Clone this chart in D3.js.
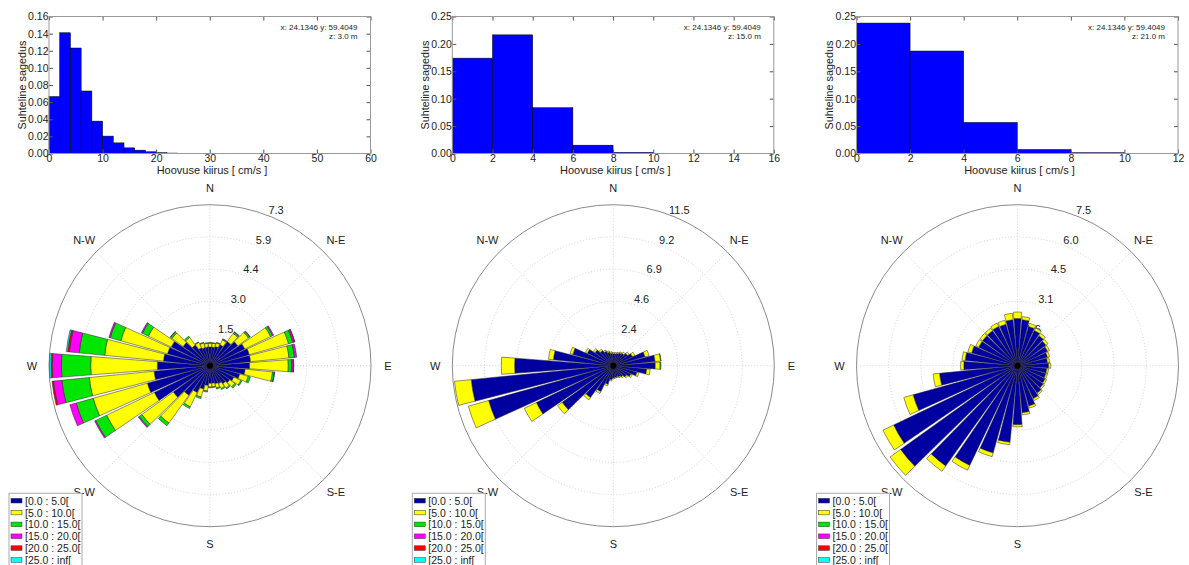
<!DOCTYPE html>
<html>
<head>
<meta charset="utf-8">
<script src="https://cdn.jsdelivr.net/npm/d3@7"></script>
<style>
  body { margin: 0; background: #fff; }
  svg text { font-family: "Liberation Sans", Arial, sans-serif; fill: #222; }
</style>
</head>
<body>
<div id="chart"></div>
<script>
var width = 1189;
var height = 565;

// ---- histograms: bin left edges (cm/s, width 2) and relative frequency ----
var hist1Edges = [0, 2, 4, 6, 8, 10, 12, 14, 16, 18, 20, 22, 24, 26, 28];
var hist1Freq = [0.0665, 0.1410, 0.1232, 0.0730, 0.0378, 0.0203, 0.0124, 0.0066, 0.0039, 0.0020, 0.0010, 0.0005, 0.0003, 0.0002, 0.0001];
var hist2Edges = [0, 2, 4, 6, 8];
var hist2Freq = [0.174, 0.2165, 0.0835, 0.0152, 0.0020];
var hist3Edges = [0, 2, 4, 6, 8];
var hist3Freq = [0.238, 0.187, 0.0567, 0.0073, 0.0015];

var depths = ["z: 3.0 m", "z: 15.0 m", "z: 21.0 m"];
var position = "x: 24.1346 y: 59.4049";

// ---- wind roses: 36 directions (compass degrees), frequency in % ----
var directions = [0, 10, 20, 30, 40, 50, 60, 70, 80, 90, 100, 110, 120, 130, 140, 150, 160, 170,
                  180, 190, 200, 210, 220, 230, 240, 250, 260, 270, 280, 290, 300, 310, 320, 330, 340, 350];
var dirLabels = ["N", "N-E", "E", "S-E", "S", "S-W", "W", "N-W"];
var binLabels = ["[0.0 : 5.0[", "[5.0 : 10.0[", "[10.0 : 15.0[", "[15.0 : 20.0[", "[20.0 : 25.0[", "[25.0 : inf["];
var binColors = ["#0000a0", "#ffff00", "#00e600", "#ff00ff", "#ff0000", "#00ffff"];

// depth 3.0 m
var rose1_0_5   = [0.85, 0.85, 0.90, 1.05, 1.35, 1.55, 1.75, 1.85, 1.85, 1.80, 1.60, 1.40, 1.20, 1.10, 1.00, 0.90, 0.85, 0.80,
                   0.80, 0.90, 1.10, 1.35, 1.65, 2.05, 2.80, 2.95, 2.55, 2.39, 2.12, 2.00, 1.95, 1.50, 1.15, 0.90, 0.85, 0.85];
var rose1_5_10  = [0.17, 0.17, 0.17, 0.25, 0.45, 0.60, 1.30, 1.85, 1.75, 1.75, 1.25, 0.40, 0.35, 0.28, 0.25, 0.25, 0.20, 0.17,
                   0.17, 0.25, 0.38, 0.72, 1.55, 1.75, 2.40, 2.55, 2.95, 3.02, 2.68, 2.20, 1.15, 0.62, 0.43, 0.27, 0.22, 0.17];
var rose1_10_15 = [0.03, 0.03, 0.03, 0.03, 0.07, 0.07, 0.10, 0.20, 0.25, 0.15, 0.08, 0.10, 0.05, 0.07, 0.05, 0.05, 0.05, 0.03,
                   0.03, 0.05, 0.07, 0.08, 0.15, 0.15, 0.55, 0.80, 1.25, 1.33, 1.16, 0.50, 0.30, 0.08, 0.07, 0.03, 0.03, 0.03];
var rose1_15_20 = [0, 0, 0, 0.02, 0.03, 0.03, 0.05, 0.08, 0.10, 0.08, 0.02, 0, 0, 0, 0, 0, 0, 0,
                   0, 0, 0, 0, 0, 0.05, 0.05, 0.30, 0.38, 0.41, 0.45, 0.06, 0.05, 0.02, 0, 0, 0, 0];
var rose1_20_25 = [0, 0, 0, 0, 0, 0, 0, 0.02, 0, 0.02, 0, 0, 0, 0, 0, 0, 0, 0,
                   0, 0, 0, 0, 0, 0, 0, 0, 0.07, 0.06, 0.08, 0, 0, 0, 0, 0, 0, 0];
var rose1_25_inf = [0, 0, 0, 0, 0, 0, 0, 0, 0, 0, 0, 0, 0, 0, 0, 0, 0, 0,
                    0, 0, 0, 0, 0, 0, 0, 0, 0, 0.07, 0.06, 0, 0, 0, 0, 0, 0, 0];

// depth 15.0 m
var rose2_0_5   = [0.85, 0.85, 0.90, 1.00, 1.08, 1.25, 1.50, 2.35, 3.00, 3.00, 2.40, 1.75, 1.38, 1.15, 0.97, 0.88, 0.83, 0.83,
                   0.87, 1.00, 1.38, 2.05, 2.80, 4.50, 6.10, 9.25, 10.20, 7.05, 4.30, 3.00, 2.05, 1.60, 1.33, 1.15, 1.00, 0.90];
var rose2_5_10  = [0.10, 0.10, 0.10, 0.10, 0.12, 0.15, 0.20, 0.30, 0.40, 0.35, 0.25, 0.15, 0.12, 0.10, 0.08, 0.07, 0.07, 0.07,
                   0.08, 0.10, 0.12, 0.15, 0.20, 0.40, 0.95, 1.50, 1.20, 0.95, 0.35, 0.20, 0.15, 0.15, 0.12, 0.10, 0.10, 0.10];
var rose2_10_15 = [0, 0, 0, 0, 0, 0, 0, 0, 0.03, 0.05, 0, 0, 0, 0, 0, 0, 0, 0,
                   0, 0, 0, 0, 0, 0, 0, 0, 0, 0, 0, 0, 0, 0, 0, 0, 0, 0];

// depth 21.0 m
var rose3_0_5   = [2.20, 2.15, 1.90, 1.82, 1.72, 1.63, 1.55, 1.45, 1.40, 1.45, 1.37, 1.37, 1.42, 1.47, 1.57, 1.70, 1.95, 2.20,
                   2.75, 3.58, 4.22, 5.15, 5.75, 6.70, 6.40, 5.05, 3.65, 2.50, 2.45, 2.22, 2.00, 2.00, 2.00, 2.03, 2.00, 2.15];
var rose3_5_10  = [0.30, 0.15, 0.15, 0.13, 0.13, 0.12, 0.10, 0.10, 0.10, 0.10, 0.08, 0.08, 0.08, 0.08, 0.08, 0.10, 0.10, 0.10,
                   0.10, 0.12, 0.18, 0.25, 0.30, 0.60, 0.55, 0.45, 0.30, 0.15, 0.15, 0.18, 0.15, 0.15, 0.15, 0.17, 0.20, 0.30];

var rings1 = ["1.5", "3.0", "4.4", "5.9", "7.3"];
var rings2 = ["2.4", "4.6", "6.9", "9.2", "11.5"];
var rings3 = ["1.6", "3.1", "4.5", "6.0", "7.5"];

var panels = [
  { cx: 210, edges: hist1Edges, freq: hist1Freq, xMax: 60, xTicks: 6, yMax: 0.16, yTicks: 8, depth: depths[0],
    rose: [rose1_0_5, rose1_5_10, rose1_10_15, rose1_15_20, rose1_20_25, rose1_25_inf], rMax: 7.3, rings: rings1 },
  { cx: 613.3, edges: hist2Edges, freq: hist2Freq, xMax: 16, xTicks: 8, yMax: 0.25, yTicks: 5, depth: depths[1],
    rose: [rose2_0_5, rose2_5_10, rose2_10_15], rMax: 11.5, rings: rings2 },
  { cx: 1017.5, edges: hist3Edges, freq: hist3Freq, xMax: 12, xTicks: 6, yMax: 0.25, yTicks: 5, depth: depths[2],
    rose: [rose3_0_5, rose3_5_10], rMax: 7.5, rings: rings3 }
];

var histTop = 16.5, histBottom = 153.5, histW = 321.5;
var roseCy = 365.7, R = 161;
var binWidth = 2;
var opening = 0.88;
var toRad = Math.PI / 180;

var svg = d3.select("#chart")
    .append("svg")
    .attr("width", width)
    .attr("height", height);

function styleAxis(g) {
  g.select(".domain").remove();
  g.selectAll("line").attr("stroke", "#555");
  g.selectAll("text").attr("font-size", 10.5).attr("font-family", null).style("fill", "#222");
}

panels.forEach(function (p) {
  // ---------------- histogram ----------------
  var left = p.cx - 161;
  var x = d3.scaleLinear().domain([0, p.xMax]).range([left, left + histW]);
  var y = d3.scaleLinear().domain([0, p.yMax]).range([histBottom, histTop]);
  var h = svg.append("g");

  h.selectAll("rect.bar")
    .data(p.freq)
    .enter()
    .append("rect")
    .attr("class", "bar")
    .attr("x", (d, i) => x(p.edges[i]))
    .attr("width", (d, i) => x(p.edges[i] + binWidth) - x(p.edges[i]))
    .attr("y", d => y(d))
    .attr("height", d => histBottom - y(d))
    .attr("fill", "#0000ff")
    .attr("stroke", "#000")
    .attr("stroke-width", 0.5);

  h.append("g").attr("transform", `translate(0, ${histBottom})`)
    .call(d3.axisBottom(x).ticks(p.xTicks).tickSize(-4).tickPadding(1).tickFormat(d3.format("d")))
    .call(styleAxis);
  h.append("g").attr("transform", `translate(0, ${histTop})`)
    .call(d3.axisTop(x).ticks(p.xTicks).tickSize(-4).tickFormat(""))
    .call(styleAxis);
  h.append("g").attr("transform", `translate(${left}, 0)`)
    .call(d3.axisLeft(y).ticks(p.yTicks).tickSize(-4).tickPadding(0.5).tickFormat(d3.format(".2f")))
    .call(styleAxis);
  h.append("g").attr("transform", `translate(${left + histW}, 0)`)
    .call(d3.axisRight(y).ticks(p.yTicks).tickSize(-4).tickFormat(""))
    .call(styleAxis);

  h.append("rect")
    .attr("x", left).attr("y", histTop)
    .attr("width", histW).attr("height", histBottom - histTop)
    .attr("fill", "none").attr("stroke", "#999").attr("stroke-width", 1);

  h.append("text")
    .attr("x", p.cx + 2).attr("y", 174)
    .attr("text-anchor", "middle").attr("font-size", 11)
    .text("Hoovuse kiirus [ cm/s ]");
  h.append("text")
    .attr("transform", `translate(${p.cx - 188.5}, ${(histTop + histBottom) / 2}) rotate(-90)`)
    .attr("text-anchor", "middle").attr("dominant-baseline", "central").attr("font-size", 10.8)
    .text("Suhteline sagedus");
  h.append("text")
    .attr("x", left + histW - 13).attr("y", 29.5)
    .attr("text-anchor", "end").attr("font-size", 8)
    .text(position);
  h.append("text")
    .attr("x", left + histW - 13).attr("y", 38.8)
    .attr("text-anchor", "end").attr("font-size", 8)
    .text(p.depth);

  // ---------------- wind rose ----------------
  var r = d3.scaleLinear().domain([0, p.rMax]).range([0, R]);
  var g = svg.append("g").attr("transform", `translate(${p.cx}, ${roseCy})`);

  // dotted rings and spokes
  p.rings.forEach(function (lab, i) {
    var rv = p.rMax * (i + 1) / p.rings.length;
    if (i < p.rings.length - 1) {
      g.append("circle").attr("r", r(rv))
        .attr("fill", "none").attr("stroke", "#c8c8c8").attr("stroke-width", 0.8)
        .attr("stroke-dasharray", "1,2");
    }
    var a = 23 * toRad, rr = r(rv) + 8;
    g.append("text")
      .attr("x", rr * Math.sin(a)).attr("y", -rr * Math.cos(a))
      .attr("text-anchor", "middle").attr("dominant-baseline", "central")
      .attr("font-size", 11)
      .text(lab);
  });
  dirLabels.forEach(function (lab, i) {
    var a = i * 45 * toRad;
    g.append("line")
      .attr("x1", 0).attr("y1", 0)
      .attr("x2", R * Math.sin(a)).attr("y2", -R * Math.cos(a))
      .attr("stroke", "#c8c8c8").attr("stroke-width", 0.8).attr("stroke-dasharray", "1,2");
    var lx = (R + 17) * Math.sin(a);
    // the right-most panel's "E" falls outside the picture, as in the original
    if (p.cx + lx > width - 4) return;
    g.append("text")
      .attr("x", lx).attr("y", -(R + 17) * Math.cos(a))
      .attr("text-anchor", "middle").attr("dominant-baseline", "central")
      .attr("font-size", 11)
      .text(lab);
  });
  g.append("circle").attr("r", R)
    .attr("fill", "none").attr("stroke", "#8a8a8a").attr("stroke-width", 1);

  // stacked sectors
  var segs = [];
  directions.forEach(function (dir, i) {
    var cum = 0;
    p.rose.forEach(function (series, k) {
      var v = series[i];
      if (v > 0) {
        segs.push({ dir: dir, k: k, r0: cum, r1: cum + v });
        cum += v;
      }
    });
  });
  var arc = d3.arc()
    .innerRadius(d => r(d.r0))
    .outerRadius(d => r(d.r1))
    .startAngle(d => (d.dir - 5 * opening) * toRad)
    .endAngle(d => (d.dir + 5 * opening) * toRad);
  g.selectAll("path.seg")
    .data(segs)
    .enter()
    .append("path")
    .attr("class", "seg")
    .attr("d", arc)
    .attr("fill", d => binColors[d.k])
    .attr("stroke", "#222")
    .attr("stroke-width", 0.5);
  g.append("circle").attr("r", 3).attr("fill", "#000");

  // legend
  var lx = p.cx - 201, ly = 493.3;
  var lg = svg.append("g").attr("transform", `translate(${lx}, ${ly})`);
  lg.append("rect").attr("width", 73).attr("height", 90)
    .attr("fill", "#fff").attr("stroke", "#aaa").attr("stroke-width", 1);
  binLabels.forEach(function (lab, i) {
    var yy = 7.4 + i * 11.85;
    lg.append("rect").attr("x", 2).attr("y", yy - 2.3).attr("width", 11).attr("height", 4.6)
      .attr("fill", binColors[i]).attr("stroke", "#333").attr("stroke-width", 0.5);
    lg.append("text").attr("x", 16).attr("y", yy)
      .attr("dominant-baseline", "central").attr("font-size", 10.5)
      .text(lab);
  });
});
</script>
</body>
</html>
